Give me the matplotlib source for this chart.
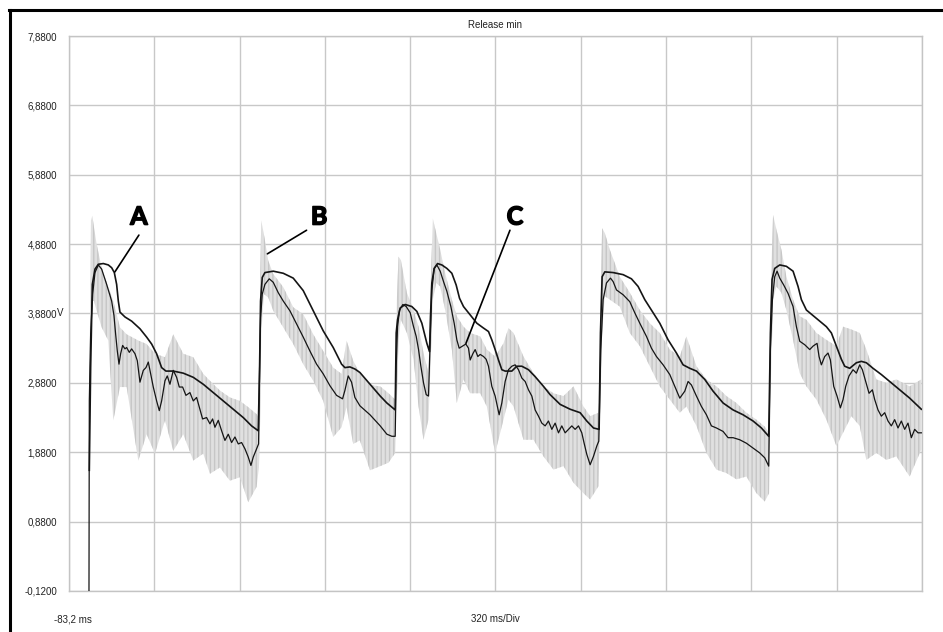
import matplotlib
matplotlib.use("Agg")
import matplotlib.pyplot as plt
from matplotlib.lines import Line2D
import matplotlib.transforms as mtransforms
import matplotlib.patheffects as pe
import numpy as np

# time axis (ms) and voltage grid
t_start = -83.2
ms_per_div = 320
n_div = 10
y_ticks = [-0.12, 0.88, 1.88, 2.88, 3.88, 4.88, 5.88, 6.88, 7.88]

# smooth envelope trace
env_t = [-7.0, -2.0, 4.3, 14.3, 26.8, 45.5, 64.3, 76.8, 86.8, 95.5, 101.8, 108.0, 126.8, 151.8,
         183.0, 208.0, 226.8, 245.5, 264.3, 280.5, 308.0, 345.5, 383.0, 420.5, 458.0, 495.5,
         533.0, 570.5, 601.8, 626.8,
         631.8, 635.5, 641.8, 651.8, 683.0, 720.5, 758.0, 795.5, 833.0, 870.5, 908.0, 939.3,
         951.8, 970.5, 989.3, 1008.0, 1046.0,
         1084.3, 1109.3, 1140.5, 1144.3, 1149.3, 1159.3, 1178.0, 1203.0, 1221.8, 1240.5, 1259.3,
         1269.3, 1273.0, 1278.0, 1286.8, 1299.3, 1315.5, 1334.3, 1353.0, 1369.3, 1381.8, 1396.8,
         1421.8, 1446.8, 1471.8, 1490.5, 1503.0, 1515.5, 1528.0, 1540.5, 1553.0, 1578.0, 1596.8,
         1615.5, 1640.5, 1665.5, 1696.8, 1721.8, 1759.3, 1796.8, 1834.3, 1859.3, 1884.3, 1905.5,
         1910.6, 1916.8, 1926.8, 1958.1, 1995.6, 2026.8, 2051.8, 2076.8, 2101.8, 2133.1, 2164.3,
         2195.6, 2220.6, 2245.6, 2270.6, 2301.8, 2333.1, 2370.6, 2408.1, 2445.6, 2483.1, 2514.3,
         2541.8,
         2548.1, 2554.3, 2564.3, 2583.1, 2608.1, 2633.1, 2651.8, 2664.3, 2683.1, 2720.6, 2758.1,
         2776.8, 2795.6, 2814.3, 2826.8, 2845.6, 2870.6, 2889.3, 2908.1, 2933.1, 2964.3, 2995.6,
         3033.1, 3070.6, 3114.3]
env_v = [1.62, 3.10, 4.30, 4.52, 4.59, 4.60, 4.58, 4.54, 4.47, 4.30, 4.06, 3.90, 3.83, 3.77,
         3.66, 3.54, 3.44, 3.30, 3.10, 3.05, 3.05, 3.02, 2.96, 2.86, 2.74, 2.62,
         2.50, 2.38, 2.26, 2.19,
         3.10, 4.06, 4.40, 4.47, 4.49, 4.46, 4.39, 4.21, 3.92, 3.63, 3.39, 3.15,
         3.10, 3.11, 3.08, 3.03, 2.86,
         2.69, 2.59, 2.49, 3.60, 3.79, 3.96, 4.01, 3.98, 3.91, 3.74, 3.45,
         3.33, 3.84, 4.32, 4.53, 4.60, 4.58, 4.53, 4.46, 4.29, 4.10, 3.98,
         3.86, 3.74, 3.67, 3.62, 3.50, 3.36, 3.21, 3.07, 3.05, 3.05, 3.12,
         3.12, 3.07, 2.97, 2.83, 2.71, 2.57, 2.50, 2.45, 2.33, 2.23, 2.21,
         3.60, 4.41, 4.48, 4.47, 4.44, 4.38, 4.27, 4.08, 3.93, 3.74, 3.50,
         3.31, 3.14, 3.09, 3.05, 2.93, 2.76, 2.59, 2.49, 2.42, 2.33, 2.23,
         2.11,
         3.60, 4.37, 4.53, 4.58, 4.56, 4.49, 4.27, 4.08, 3.93, 3.81, 3.69,
         3.60, 3.41, 3.22, 3.12, 3.09, 3.17, 3.19, 3.17, 3.09, 3.00, 2.90,
         2.78, 2.66, 2.50]

# detailed (filtered) trace
det_t = [-8.25, -7.0, -2.0, 5.5, 14.3, 26.8, 39.3, 58.0, 76.8, 85.5, 91.8, 98.0, 104.3, 110.5,
         118.0, 126.8, 133.0, 143.0, 151.8, 164.3, 173.0, 183.0, 195.5, 205.5, 214.3, 223.0,
         233.0, 245.5, 255.5, 264.3, 276.8, 285.5, 295.5, 308.0, 320.5, 330.5, 343.0, 355.5,
         370.5, 383.0, 395.5, 408.0, 418.0, 433.0, 445.5, 455.5, 464.3, 476.8, 489.3, 501.8,
         514.3, 526.8, 539.3, 551.8, 564.3, 576.8, 589.3, 599.3, 608.0, 620.5, 628.0,
         631.8, 635.5, 641.8, 651.8, 668.0, 683.0, 701.8, 720.5, 745.5, 770.5, 795.5, 820.5,
         845.5, 870.5, 895.5, 920.5, 943.0, 951.8, 964.3, 976.8, 989.3, 1008.0, 1046.0,
         1084.3, 1109.3, 1128.1, 1140.5, 1144.3, 1149.3, 1156.8, 1169.3, 1181.8, 1196.8, 1209.3,
         1219.3, 1228.1, 1236.8, 1246.8, 1256.8, 1265.5, 1271.8, 1278.1, 1286.8, 1296.8, 1309.3,
         1321.8, 1334.3, 1349.3, 1361.8, 1371.8, 1380.5, 1393.1, 1405.5, 1415.5, 1421.8, 1431.8,
         1440.5, 1450.5, 1459.3, 1471.8, 1481.8, 1490.5, 1503.0, 1515.5, 1530.5, 1540.5, 1553.0,
         1565.5, 1578.1, 1590.5, 1603.0, 1615.5, 1628.1, 1640.5, 1653.1, 1665.5, 1678.1, 1690.5,
         1703.1, 1715.5, 1728.1, 1740.5, 1753.1, 1765.5, 1778.1, 1790.5, 1803.1, 1815.5, 1828.1,
         1840.5, 1849.3, 1859.3, 1871.8, 1884.3, 1896.8, 1904.3,
         1911.8, 1920.6, 1933.1, 1948.1, 1958.1, 1970.6, 1995.6, 2020.6, 2039.3, 2058.1, 2083.1,
         2101.8, 2120.6, 2145.6, 2170.6, 2189.3, 2208.1, 2226.8, 2239.3, 2251.8, 2270.6, 2289.3,
         2308.1, 2326.8, 2345.6, 2370.6, 2389.3, 2408.1, 2433.1, 2458.1, 2483.1, 2508.1, 2526.8,
         2541.8,
         2548.1, 2555.6, 2564.3, 2573.1, 2583.1, 2598.1, 2614.3, 2633.1, 2645.6, 2658.1, 2676.8,
         2695.6, 2708.1, 2723.1, 2730.6, 2739.3, 2751.8, 2764.3, 2773.1, 2785.6, 2798.1, 2810.6,
         2820.6, 2830.6, 2843.1, 2858.1, 2870.6, 2883.1, 2893.1, 2905.6, 2918.1, 2930.6, 2939.3,
         2951.8, 2964.3, 2976.8, 2989.3, 3001.8, 3014.3, 3026.8, 3039.3, 3051.8, 3064.3, 3076.8,
         3089.3, 3101.8, 3114.3]
det_v = [-0.12, 2.62, 3.58, 4.16, 4.47, 4.58, 4.52, 4.30, 4.06, 3.85, 3.58, 3.34, 3.15, 3.30,
         3.42, 3.37, 3.39, 3.32, 3.37, 3.30, 3.20, 2.89, 3.06, 3.10, 3.18, 3.01,
         2.82, 2.62, 2.48, 2.62, 2.91, 2.98, 2.86, 3.06, 2.96, 2.82, 2.82, 2.70,
         2.74, 2.62, 2.67, 2.50, 2.36, 2.38, 2.29, 2.36, 2.24, 2.34, 2.19, 2.05,
         2.14, 2.02, 2.10, 2.00, 2.02, 1.93, 1.81, 1.69, 1.81, 1.93, 2.00,
         3.10, 3.82, 4.16, 4.30, 4.38, 4.33, 4.18, 4.06, 3.92, 3.73, 3.54, 3.34,
         3.15, 3.01, 2.84, 2.70, 2.65, 2.77, 2.98, 2.89, 2.67, 2.55, 2.42,
         2.26, 2.14, 2.11, 2.11, 3.12, 3.69, 3.93, 4.01, 3.98, 3.89, 3.69,
         3.55, 3.36, 3.12, 2.88, 2.71, 2.69, 3.50, 4.22, 4.53, 4.58, 4.49,
         4.34, 4.20, 3.98, 3.74, 3.50, 3.38, 3.41, 3.44, 3.38, 3.21, 3.30,
         3.36, 3.26, 3.29, 3.26, 3.22, 3.12, 2.83, 2.69, 2.42, 2.59, 2.90,
         3.07, 3.12, 3.14, 3.07, 2.95, 2.90, 2.78, 2.69, 2.49, 2.40, 2.30,
         2.26, 2.33, 2.21, 2.30, 2.16, 2.26, 2.16, 2.21, 2.26, 2.21, 2.26,
         2.16, 2.01, 1.85, 1.70, 1.82, 1.97, 2.04,
         3.36, 4.08, 4.32, 4.39, 4.34, 4.22, 4.15, 4.05, 3.89, 3.74, 3.55,
         3.38, 3.26, 3.14, 3.00, 2.83, 2.66, 2.76, 2.90, 2.85, 2.69, 2.54,
         2.42, 2.26, 2.23, 2.18, 2.09, 2.09, 2.06, 2.01, 1.94, 1.87, 1.80,
         1.68,
         3.36, 4.08, 4.41, 4.49, 4.39, 4.29, 4.17, 3.98, 3.69, 3.48, 3.43,
         3.36, 3.41, 3.45, 3.26, 3.14, 3.26, 3.31, 3.21, 2.83, 2.69, 2.52,
         2.64, 2.83, 2.98, 3.07, 3.02, 3.14, 3.07, 2.90, 2.73, 2.78, 2.64,
         2.49, 2.40, 2.45, 2.33, 2.26, 2.35, 2.23, 2.33, 2.21, 2.30, 2.09,
         2.21, 2.16, 2.16]

# raw (unfiltered) signal, given as its upper and lower extent
raw_t = [-7.0, -0.75, 4.25, 10.5, 20.5, 39.3, 64.3, 83.0, 108.0, 133.0, 176.8, 208.0, 239.3,
         276.8, 308.0, 345.5, 383.0, 420.5, 445.5, 483.0, 520.5, 558.0, 589.3, 620.5, 629.3,
         633.0, 638.0, 648.0, 664.3, 683.0, 720.5, 758.0, 795.5, 833.0, 870.5, 908.0, 939.3,
         958.0, 983.0, 1008.0, 1046.0,
         1084.3, 1115.5, 1140.5, 1146.8, 1153.0, 1161.8, 1184.3, 1209.3, 1228.1, 1246.8, 1265.5,
         1271.8, 1281.8, 1294.3, 1309.3, 1328.1, 1353.1, 1371.8, 1396.8, 1421.8, 1459.3, 1484.3,
         1515.5, 1546.8, 1565.5, 1584.3, 1621.8, 1659.3, 1696.8, 1734.3, 1771.8, 1809.3, 1846.8,
         1871.8, 1903.1,
         1910.6, 1916.8, 1926.8, 1945.6, 1983.1, 2020.6, 2058.1, 2095.6, 2133.1, 2170.6, 2208.1,
         2233.1, 2270.6, 2308.1, 2345.6, 2383.1, 2420.6, 2458.1, 2495.6, 2526.8, 2543.1,
         2548.1, 2558.1, 2570.6, 2589.3, 2608.1, 2633.1, 2658.1, 2683.1, 2720.6, 2758.1, 2795.6,
         2820.6, 2851.8, 2883.1, 2908.1, 2945.6, 2983.1, 3020.6, 3070.6, 3114.3]
raw_hi = [2.62, 5.22, 5.29, 5.12, 4.88, 4.54, 4.26, 4.06, 3.68, 3.58, 3.49, 3.44, 3.30,
          3.25, 3.58, 3.30, 3.25, 3.01, 2.91, 2.77, 2.67, 2.62, 2.53, 2.43, 2.38,
          4.06, 5.22, 5.02, 4.64, 4.45, 4.26, 3.97, 3.87, 3.58, 3.34, 3.10, 3.01,
          3.49, 3.20, 3.01, 2.85,
          2.83, 2.73, 2.64, 4.08, 4.70, 4.65, 4.18, 3.93, 3.69, 3.31, 3.02,
          4.08, 5.25, 5.04, 4.80, 4.46, 4.08, 3.84, 3.69, 3.60, 3.55, 3.36,
          3.26, 3.45, 3.67, 3.60, 3.26, 3.02, 2.83, 2.73, 2.69, 2.83, 2.54,
          2.40, 2.45,
          4.08, 5.11, 5.04, 4.80, 4.41, 4.18, 3.93, 3.74, 3.60, 3.36, 3.26,
          3.55, 3.12, 2.93, 2.83, 2.69, 2.59, 2.45, 2.35, 2.25, 2.16,
          4.08, 5.30, 5.09, 4.80, 4.41, 4.08, 3.84, 3.79, 3.60, 3.50, 3.41,
          3.69, 3.65, 3.60, 3.36, 2.93, 2.88, 2.93, 2.83, 2.93]
raw_lo = [1.47, 3.34, 4.06, 4.06, 3.92, 3.68, 3.49, 2.34, 2.82, 2.82, 1.76, 2.14, 1.86,
          2.34, 1.90, 2.14, 1.76, 1.86, 1.57, 1.66, 1.47, 1.52, 1.16, 1.38, 1.66,
          2.14, 3.58, 4.16, 4.11, 3.92, 3.68, 3.44, 3.15, 2.91, 2.62, 2.10, 2.24,
          2.53, 2.00, 2.05, 1.62,
          1.68, 1.73, 1.87, 2.64, 3.50, 3.79, 3.60, 3.22, 2.54, 2.06, 2.35,
          3.02, 4.08, 4.32, 4.27, 3.93, 3.36, 2.59, 2.93, 2.73, 2.73, 2.54,
          1.87, 2.35, 2.64, 2.54, 2.06, 2.06, 1.82, 1.63, 1.68, 1.44, 1.29,
          1.20, 1.39,
          2.64, 3.60, 4.13, 4.08, 3.98, 3.60, 3.41, 3.12, 2.83, 2.64, 2.45,
          2.54, 2.26, 1.87, 1.63, 1.58, 1.49, 1.53, 1.29, 1.17, 1.29,
          2.64, 4.08, 4.27, 4.18, 3.93, 3.50, 3.02, 2.83, 2.64, 2.35, 1.97,
          2.16, 2.40, 2.26, 1.77, 1.87, 1.77, 1.82, 1.53, 1.92]

# callouts
callout_text = ["A", "B", "C"]
callout_xy = [(179, 5.27), (855, 5.27), (1590, 5.27)]
callout_from = [(179, 5.01), (808, 5.08), (1571, 5.08)]
callout_to = [(89, 4.48), (661, 4.74), (1406, 3.45)]

plt.rcParams["hatch.linewidth"] = 1.0
plt.rcParams["hatch.color"] = "#c6c6c6"

W, H = 943, 632
fig = plt.figure(figsize=(W / 100, H / 100), dpi=100)
ax = fig.add_axes([69 / W, 1 - 591 / H, (922 - 69) / W, (591 - 36) / H])

ax.fill_between(raw_t, raw_lo, raw_hi, facecolor="#e0e0e0", edgecolor="#c6c6c6",
                hatch="||||", lw=0, zorder=2)
ax.plot(det_t, det_v, color="#151515", lw=0.9, zorder=3)
ax.plot(env_t, env_v, color="#151515", lw=1.2, zorder=4)

t_end = t_start + n_div * ms_per_div
ax.set_xlim(t_start, t_end)
ax.set_ylim(y_ticks[0], y_ticks[-1])
ax.set_xticks([t_start + k * ms_per_div for k in range(n_div + 1)])
ax.set_xticklabels([])
ax.set_yticks(y_ticks)
ax.set_yticklabels([f"{v:.4f}".replace(".", ",") for v in y_ticks],
                   fontfamily="Liberation Sans", fontsize=7, color="#222222")
ax.tick_params(length=0, pad=8.5)
ax.grid(True, color="#c8c8c8", lw=1.0)
ax.set_axisbelow(True)
for s in ax.spines.values():
    s.set_color("#c4c4c4")
    s.set_linewidth(1.0)

# unit suffix on the 3,88 label
trans = mtransforms.blended_transform_factory(ax.transAxes, ax.transData)
ax.text(-12.5 / 853, 3.88, "V", transform=trans, ha="left", va="center",
        fontfamily="Liberation Sans", fontsize=7, color="#222222")

ax.text(0.5, 1.02, "Release min", transform=ax.transAxes, ha="center", va="center",
        fontfamily="Liberation Sans", fontsize=7, color="#222222")
fig.text(54 / W, 1 - 619 / H, "-83,2 ms", ha="left", va="center",
         fontfamily="Liberation Sans", fontsize=7, color="#222222")
fig.text(495 / W, 1 - 619 / H, "320 ms/Div", ha="center", va="center",
         fontfamily="Liberation Sans", fontsize=7, color="#222222")

for txt, xy, p0, p1 in zip(callout_text, callout_xy, callout_from, callout_to):
    ax.text(xy[0], xy[1], txt, ha="center", va="center", fontsize=18,
            fontweight="bold", fontfamily=["Lato", "DejaVu Sans"], color="black", zorder=6,
            path_effects=[pe.withStroke(linewidth=1.1, foreground="black")])
    ax.annotate("", xy=p1, xytext=p0,
                arrowprops=dict(arrowstyle="-", lw=1.2, color="black",
                                shrinkA=0, shrinkB=0), zorder=6)

# outer frame (left and top edges)
fig.add_artist(Line2D([10 / W, 10 / W], [0, 1 - 10 / H], color="black", lw=2.2))
fig.add_artist(Line2D([9 / W, 1], [1 - 10 / H, 1 - 10 / H], color="black", lw=2.2))

fig.savefig("out.png", dpi=100)
